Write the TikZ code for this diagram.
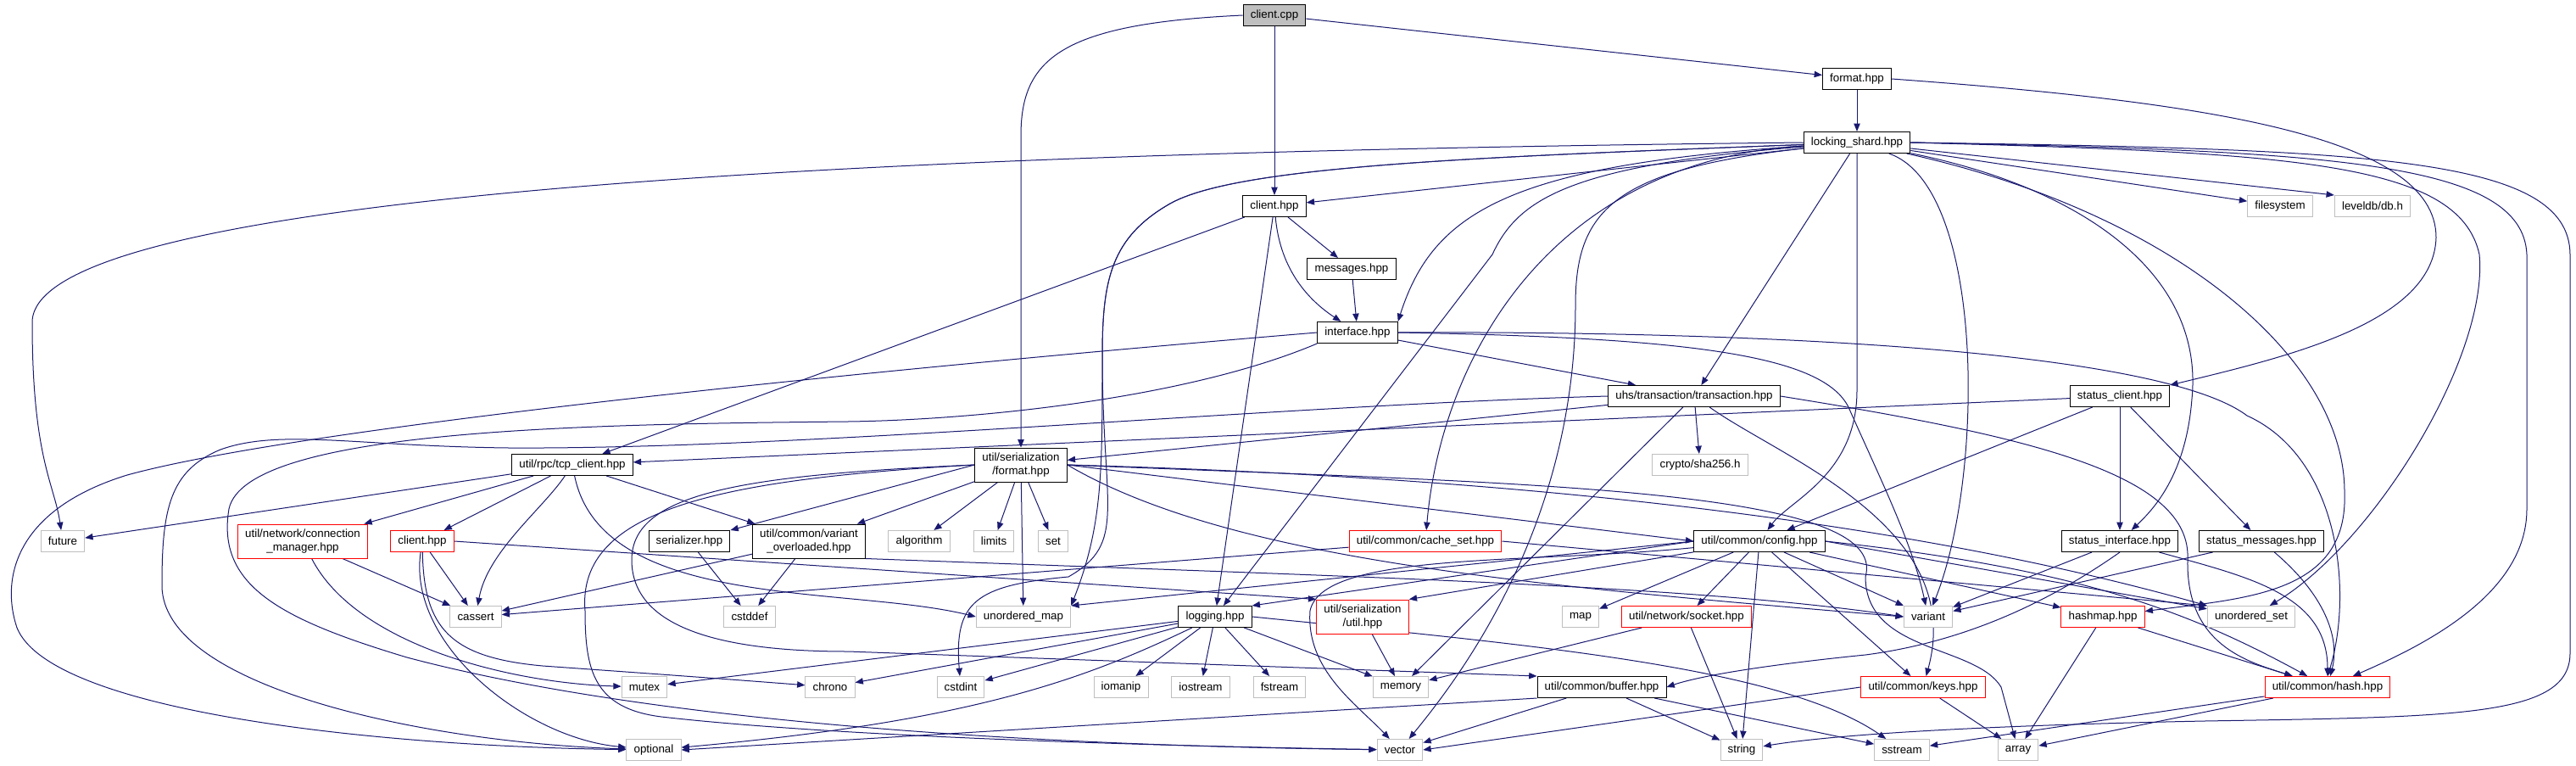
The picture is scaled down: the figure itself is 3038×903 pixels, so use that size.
\documentclass[tikz,border=0pt]{standalone}
\usepackage{fontspec}
\setmainfont{Liberation Sans}
\usepackage{tikz}
\usetikzlibrary{arrows.meta}
\definecolor{dxblue}{RGB}{25,25,112}
\definecolor{dxgray}{RGB}{191,191,191}
\definecolor{dxred}{RGB}{255,0,0}
\pgfdeclarelayer{edges}
\pgfsetlayers{edges,main}

\begin{document}
\begin{tikzpicture}[
  x=0.75pt, y=-0.75pt,
  font=\fontsize{10pt}{12pt}\selectfont,
  nd/.style={draw, rectangle, fill=white, minimum height=18.75pt, inner xsep=6.5pt, inner ysep=3pt, align=center, line width=0.75pt},
  hdr/.style={nd, draw=black},
  sys/.style={nd, draw=dxgray},
  miss/.style={nd, draw=dxred},
  src/.style={nd, draw=black, fill=dxgray},
  two/.style={minimum height=30pt},
  >={Triangle[length=7pt,width=5.5pt]},
  inc/.style={->, draw=dxblue, line width=0.75pt},
]
\useasboundingbox (0,0) rectangle (3038,903);

\node[src] (clientCpp) at (1503,18) {client.cpp};
\node[hdr] (formatHpp) at (2190,93) {format.hpp};
\node[hdr] (lockShard) at (2190,168) {locking\_shard.hpp};
\node[sys] (fsys) at (2689,243) {filesystem};
\node[sys] (leveldb) at (2798,243) {leveldb/db.h};
\node[hdr] (clientHpp) at (1503,243) {client.hpp};
\node[hdr] (msgs) at (1594,317) {messages.hpp};
\node[hdr] (iface) at (1601,392) {interface.hpp};
\node[hdr] (txn) at (1998,467) {uhs/transaction/transaction.hpp};
\node[hdr] (statClient) at (2500,467) {status\_client.hpp};
\node[hdr] (tcpClient) at (675,548) {util/rpc/tcp\_client.hpp};
\node[hdr,two] (serFormat) at (1204,548) {util/serialization\\/format.hpp};
\node[sys] (sha) at (2005,548) {crypto/sha256.h};

\node[sys] (future) at (74,638) {future};
\node[miss,two] (connMgr) at (357,638) {util/network/connection\\\_manager.hpp};
\node[miss] (rpcClient) at (498,638) {client.hpp};
\node[hdr] (serializer) at (813,638) {serializer.hpp};
\node[hdr,two] (varOver) at (954,638) {util/common/variant\\\_overloaded.hpp};
\node[sys] (algo) at (1084,638) {algorithm};
\node[sys] (limits) at (1172,638) {limits};
\node[sys] (stdSet) at (1242,638) {set};
\node[miss] (cacheSet) at (1681,638) {util/common/cache\_set.hpp};
\node[hdr] (config) at (2075,638) {util/common/config.hpp};
\node[hdr] (statIface) at (2500,638) {status\_interface.hpp};
\node[hdr] (statMsgs) at (2667,638) {status\_messages.hpp};

\node[sys] (cassert) at (561,727) {cassert};
\node[sys] (cstddef) at (884,727) {cstddef};
\node[sys] (uMap) at (1207,727) {unordered\_map};
\node[hdr] (logging) at (1433,727) {logging.hpp};
\node[miss,two] (serUtil) at (1607,727) {util/serialization\\/util.hpp};
\node[sys] (stdMap) at (1864,727) {map};
\node[miss] (socket) at (1989,727) {util/network/socket.hpp};
\node[sys] (variant) at (2274,727) {variant};
\node[miss] (hashmap) at (2480,727) {hashmap.hpp};
\node[sys] (uSet) at (2655,727) {unordered\_set};

\node[sys] (mutex) at (760,810) {mutex};
\node[sys] (chrono) at (979,810) {chrono};
\node[sys] (cstdint) at (1133,810) {cstdint};
\node[sys] (iomanip) at (1322,810) {iomanip};
\node[sys] (iostream) at (1416,810) {iostream};
\node[sys] (fstream) at (1509,810) {fstream};
\node[sys] (memory) at (1652,810) {memory};
\node[hdr] (buffer) at (1889,810) {util/common/buffer.hpp};
\node[miss] (keys) at (2268,810) {util/common/keys.hpp};
\node[miss] (hash) at (2745,810) {util/common/hash.hpp};

\node[sys] (optional) at (771,884) {optional};
\node[sys] (vector) at (1651,884) {vector};
\node[sys] (string) at (2054,884) {string};
\node[sys] (sstream) at (2243,884) {sstream};
\node[sys] (array) at (2380,884) {array};

\begin{pgfonlayer}{edges}
\draw[inc] (clientCpp) -- (clientHpp);
\draw[inc] (clientCpp) -- (formatHpp);
\draw[inc] (clientCpp.west) .. controls (1250,28) and (1204,70) .. (1204,160) -- (serFormat);
\draw[inc] (formatHpp) -- (lockShard);
\draw[inc] (formatHpp.east) .. controls (2600,120) and (2873,160) .. (2873,280) .. controls (2870,380) and (2700,420) .. (statClient.north east);

\draw[inc] (lockShard.west) .. controls (1200,178) and (38,215) .. (38,380) .. controls (38,540) and (64,570) .. (future);
\draw[inc] (lockShard) -- (clientHpp);
\draw[inc] (lockShard) .. controls (1750,185) and (1460,195) .. (1380,240) .. controls (1310,280) and (1300,330) .. (1300,420) .. controls (1300,560) and (1300,620) .. (uMap.north east);
\draw[inc] (lockShard) .. controls (1750,185) and (1460,195) .. (1380,240) .. controls (1310,280) and (1300,330) .. (1300,420) .. controls (1300,600) and (1330,640) .. (1260,680) .. controls (1150,690) and (1125,710) .. (cstdint);
\draw[inc] (lockShard) .. controls (1780,195) and (1690,250) .. (iface.north east);
\draw[inc] (lockShard) .. controls (1830,190) and (1700,420) .. (cacheSet);
\draw[inc] (lockShard) .. controls (1850,195) and (1790,235) .. (1760,300) -- (logging);
\draw[inc] (lockShard) .. controls (1900,200) and (1858,250) .. (1858,360) .. controls (1858,620) and (1720,800) .. (vector);
\draw[inc] (lockShard) -- (txn);
\draw[inc] (lockShard) .. controls (2341,220) and (2341,560) .. (variant);
\draw[inc] (lockShard) .. controls (2450,220) and (2600,320) .. (2585,470) .. controls (2578,560) and (2540,600) .. (statIface);
\draw[inc] (lockShard) .. controls (2560,250) and (2765,420) .. (2765,580) .. controls (2770,700) and (2650,705) .. (hashmap);
\draw[inc] (lockShard.east) .. controls (2700,180) and (2900,190) .. (2924,300) .. controls (2935,420) and (2800,640) .. (uSet);
\draw[inc] (lockShard.east) .. controls (2750,178) and (2975,190) .. (2980,300) -- (2980,600) .. controls (2980,700) and (2860,760) .. (hash);
\draw[inc] (lockShard.east) .. controls (2800,176) and (3030,185) .. (3031,300) -- (3031,770) .. controls (3031,845) and (2900,845) .. (2600,850) .. controls (2300,856) and (2150,868) .. (string);
\draw[inc] (lockShard) -- (fsys);
\draw[inc] (lockShard) -- (leveldb.north west);
\draw[inc] (lockShard) -- (2190,460) .. controls (2190,560) and (2110,590) .. (config);

\draw[inc] (clientHpp) -- (msgs);
\draw[inc] (clientHpp) .. controls (1510,320) and (1545,355) .. (iface);
\draw[inc] (clientHpp) -- (tcpClient);
\draw[inc] (clientHpp) -- (logging);
\draw[inc] (msgs) -- (iface);

\draw[inc] (iface) -- (txn);
\draw[inc] (iface.west) .. controls (1000,438) and (350,505) .. (150,560) .. controls (20,600) and (0,680) .. (20,740) .. controls (60,840) and (450,880) .. (optional);
\draw[inc] (iface.south west) .. controls (1400,470) and (1150,495) .. (1000,497) .. controls (700,500) and (290,505) .. (270,600) .. controls (255,690) and (330,730) .. (480,775) .. controls (800,860) and (1300,880) .. (vector);
\draw[inc] (iface.east) .. controls (2100,390) and (2550,415) .. (2650,490) .. controls (2760,540) and (2775,700) .. (hash.north);
\draw[inc] (iface.east) .. controls (2000,398) and (2150,420) .. (2180,480) .. controls (2220,570) and (2255,640) .. (variant);

\draw[inc] (txn) -- (sha);
\draw[inc] (txn) -- (serFormat);
\draw[inc] (txn.west) .. controls (1500,478) and (950,530) .. (600,528) .. controls (420,526) and (330,505) .. (260,530) .. controls (200,555) and (191,600) .. (191,690) .. controls (191,810) and (500,875) .. (optional);
\draw[inc] (txn) .. controls (2100,540) and (2320,620) .. (keys);
\draw[inc] (txn.east) .. controls (2400,515) and (2585,560) .. (2580,660) .. controls (2578,760) and (2650,780) .. (hash);
\draw[inc] (txn) -- (memory);

\draw[inc] (statClient) -- (tcpClient);
\draw[inc] (statClient) -- (config);
\draw[inc] (statClient) -- (statIface);
\draw[inc] (statClient) -- (statMsgs);

\draw[inc] (tcpClient) -- (future);
\draw[inc] (tcpClient) -- (connMgr);
\draw[inc] (tcpClient) -- (rpcClient);
\draw[inc] (tcpClient) -- (varOver);
\draw[inc] (tcpClient) .. controls (640,600) and (575,650) .. (cassert);
\draw[inc] (tcpClient) .. controls (710,720) and (1000,690) .. (uMap.west);

\draw[inc] (connMgr) -- (cassert);
\draw[inc] (connMgr) .. controls (420,760) and (600,805) .. (mutex);
\draw[inc] (rpcClient) -- (cassert);
\draw[inc] (rpcClient) .. controls (480,760) and (620,870) .. (optional);
\draw[inc] (rpcClient) .. controls (500,740) and (530,775) .. (640,785) .. controls (780,795) and (850,800) .. (chrono);
\draw[inc] (rpcClient.east) -- (serUtil.north west);
\draw[inc] (serializer) -- (cstddef);
\draw[inc] (varOver) -- (cassert);
\draw[inc] (varOver) -- (cstddef);
\draw[inc] (varOver.south east) .. controls (1600,680) and (2000,690) .. (variant.west);

\draw[inc] (serFormat.west) -- (serializer.north east);
\draw[inc] (serFormat) -- (varOver);
\draw[inc] (serFormat) -- (algo);
\draw[inc] (serFormat) -- (limits);
\draw[inc] (serFormat) -- (stdSet);
\draw[inc] (serFormat) -- (uMap);
\draw[inc] (serFormat.east) -- (config.west);
\draw[inc] (serFormat.east) .. controls (1450,660) and (1800,690) .. (variant.west);
\draw[inc] (serFormat.east) .. controls (1700,560) and (2200,600) .. (uSet.north west);
\draw[inc] (serFormat.east) .. controls (1800,570) and (2230,575) .. (2200,680) .. controls (2200,770) and (2330,760) .. (2360,810) -- (array);
\draw[inc] (serFormat.west) .. controls (880,560) and (745,580) .. (745,660) .. controls (745,740) and (850,768) .. (1000,768) -- (buffer.north west);
\draw[inc] (serFormat.west) .. controls (850,565) and (680,600) .. (690,720) .. controls (690,790) and (700,835) .. (780,845) .. controls (1000,870) and (1400,880) .. (vector);

\draw[inc] (cacheSet) -- (cassert);
\draw[inc] (cacheSet.east) -- (uSet.north west);

\draw[inc] (config.west) -- (logging.north east);
\draw[inc] (config.west) -- (uMap.north east);
\draw[inc] (config) .. controls (1800,665) and (1560,650) .. (1545,720) .. controls (1540,790) and (1600,830) .. (vector);
\draw[inc] (config) -- (serUtil.north east);
\draw[inc] (config) -- (stdMap);
\draw[inc] (config) -- (socket);
\draw[inc] (config) -- (variant);
\draw[inc] (config) -- (hashmap);
\draw[inc] (config.east) -- (uSet);
\draw[inc] (config.east) .. controls (2450,670) and (2580,720) .. (hash);
\draw[inc] (config) -- (keys);
\draw[inc] (config) -- (string);

\draw[inc] (logging) -- (mutex);
\draw[inc] (logging) -- (chrono);
\draw[inc] (logging) -- (cstdint);
\draw[inc] (logging) -- (iomanip);
\draw[inc] (logging) -- (iostream);
\draw[inc] (logging) -- (fstream);
\draw[inc] (logging) -- (memory);
\draw[inc] (logging) .. controls (1280,800) and (1150,850) .. (optional);
\draw[inc] (logging.east) .. controls (1800,760) and (2100,785) .. (sstream);

\draw[inc] (serUtil) -- (memory);
\draw[inc] (socket) -- (memory);
\draw[inc] (socket) -- (string);
\draw[inc] (buffer) -- (vector);
\draw[inc] (buffer) -- (string);
\draw[inc] (buffer) -- (sstream);
\draw[inc] (buffer.south west) -- (optional.east);
\draw[inc] (keys) -- (array);
\draw[inc] (keys.west) -- (vector.east);
\draw[inc] (hashmap) -- (array);
\draw[inc] (hashmap) -- (hash);
\draw[inc] (hash) -- (sstream);
\draw[inc] (hash) -- (array);
\draw[inc] (statIface) -- (variant);
\draw[inc] (statIface) .. controls (2650,680) and (2745,700) .. (hash.north);
\draw[inc] (statIface.south) .. controls (2430,700) and (2330,755) .. (2200,772) .. controls (2100,782) and (2010,795) .. (buffer.east);
\draw[inc] (statMsgs) -- (variant);
\draw[inc] (statMsgs) .. controls (2740,700) and (2760,750) .. (hash);
\end{pgfonlayer}
\end{tikzpicture}
\end{document}
